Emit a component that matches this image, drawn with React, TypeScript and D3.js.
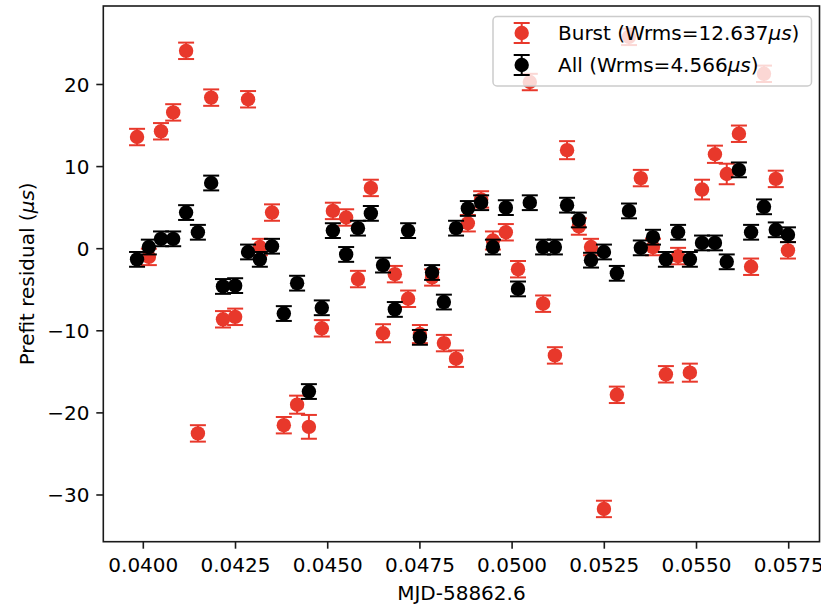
import React from "react";
import * as d3 from "d3";

const mjd = [
  0.03983, 0.04015, 0.04048, 0.04081, 0.04116, 0.04148, 0.04184, 0.04216, 0.04249, 0.04284,
  0.04316, 0.04349, 0.04381, 0.04417, 0.04449, 0.04484, 0.04514, 0.0455, 0.04582, 0.04617,
  0.0465, 0.04682, 0.04718, 0.0475, 0.04783, 0.04815, 0.04848, 0.0488, 0.04916, 0.04948,
  0.04983, 0.05016, 0.05048, 0.05084, 0.05116, 0.05149, 0.05181, 0.05214, 0.05249, 0.05284,
  0.05317, 0.05349, 0.05382, 0.05417, 0.0545, 0.05482, 0.05515, 0.0555, 0.05582, 0.05615,
  0.05648, 0.05683, 0.05715, 0.05748,
];

const burstResidual = [
  13.6, -1.0, 14.3, 16.6, 24.1, -22.5, 18.4, -8.6, -8.3, 18.2,
  0.2, 4.4, -21.5, -19.0, -21.7, -9.7, 4.6, 3.8, -3.7, 7.4,
  -10.3, -3.1, -6.1, -10.4, -3.5, -11.5, -13.4, 3.1, 6.0, 1.0,
  2.0, -2.5, 20.3, -6.7, -13.0, 12.0, 2.7, 0.2, -31.7, -17.8,
  25.8, 8.6, 0.2, -15.3, -0.9, -15.1, 7.2, 11.5, 9.1, 14.0,
  -2.2, 21.3, 8.5, -0.2,
];

const burstError = [
  1.0, 1.0, 1.0, 1.0, 1.0, 1.0, 1.0, 1.0, 1.0, 1.0,
  1.0, 1.0, 1.0, 1.1, 1.45, 1.0, 1.0, 1.0, 1.0, 1.0,
  1.1, 1.0, 1.0, 1.1, 1.0, 1.0, 1.0, 1.0, 1.0, 1.1,
  1.0, 1.0, 1.0, 1.0, 1.0, 1.1, 1.0, 1.0, 1.0, 1.0,
  1.0, 1.0, 1.0, 1.0, 1.0, 1.1, 1.2, 1.05, 1.25, 1.0,
  1.0, 1.0, 1.0, 1.0,
];

const allResidual = [
  -1.3, 0.2, 1.2, 1.2, 4.4, 2.0, 8.0, -4.6, -4.5, -0.4,
  -1.3, 0.3, -7.9, -4.2, -17.4, -7.2, 2.2, -0.7, 2.5, 4.3,
  -2.0, -7.4, 2.2, -10.8, -2.9, -6.5, 2.5, 4.9, 5.6, 0.2,
  5.0, -4.9, 5.6, 0.2, 0.2, 5.3, 3.5, -1.4, -0.4, -3.0,
  4.6, 0.1, 1.4, -1.3, 2.0, -1.3, 0.7, 0.7, -1.6, 9.6,
  2.0, 5.1, 2.3, 1.7,
];

const allError = [
  0.9, 0.9, 0.9, 0.9, 0.9, 0.9, 0.9, 0.9, 0.9, 0.9,
  0.9, 0.9, 0.9, 0.9, 0.9, 0.9, 0.9, 0.9, 0.9, 0.9,
  0.9, 0.9, 0.9, 0.9, 0.9, 0.9, 0.9, 0.9, 0.9, 0.9,
  0.9, 0.9, 0.9, 0.9, 0.9, 0.9, 0.9, 0.9, 0.9, 0.9,
  0.9, 0.9, 0.9, 0.9, 0.9, 0.9, 0.9, 0.9, 0.9, 0.9,
  0.9, 0.9, 0.9, 0.9,
];

const xTicks = [0.04, 0.0425, 0.045, 0.0475, 0.05, 0.0525, 0.055, 0.0575];
const yTicks = [-30, -20, -10, 0, 10, 20];

const seriesNames = ["Burst", "All"];
const seriesWrms = ["12.637", "4.566"];
const xLabel = "MJD-58862.6";

const RED = "#e8382b";
const BLACK = "#000000";
const FONT = "'DejaVu Sans', sans-serif";

export default function App() {
  const W = 821;
  const H = 605;
  const left = 103.3;
  const right = 819.5;
  const top = 6;
  const bottom = 541.7;

  const x = d3.scaleLinear().domain([0.038915, 0.058335]).range([left, right]);
  const y = d3.scaleLinear().domain([-35.69, 29.56]).range([bottom, top]);

  const capHalf = 8;
  const r = 7.2;

  const series = [
    { vals: burstResidual, errs: burstError, color: RED },
    { vals: allResidual, errs: allError, color: BLACK },
  ];

  const fmtX = d3.format(".4f");
  const fmtY = (v: number) => (v < 0 ? "\u2212" + Math.abs(v) : String(v));

  return (
    <svg
      width={W}
      height={H}
      style={{ position: "absolute", left: 0, top: 0, background: "#fff" }}
      fontFamily={FONT}
    >
      <rect x={0} y={0} width={W} height={H} fill="#fff" />
      {series.map((s, si) => (
        <g key={si}>
          {mjd.map((m, i) => {
            const cx = x(m);
            const cy = y(s.vals[i]);
            const y1 = y(s.vals[i] + s.errs[i]);
            const y2 = y(s.vals[i] - s.errs[i]);
            return (
              <g key={i}>
                <line x1={cx} x2={cx} y1={y1} y2={y2} stroke={s.color} strokeWidth={2} />
                <line x1={cx - capHalf} x2={cx + capHalf} y1={y1} y2={y1} stroke={s.color} strokeWidth={2} />
                <line x1={cx - capHalf} x2={cx + capHalf} y1={y2} y2={y2} stroke={s.color} strokeWidth={2} />
                <circle cx={cx} cy={cy} r={r} fill={s.color} />
              </g>
            );
          })}
        </g>
      ))}

      {/* spines */}
      <rect x={left} y={top} width={right - left} height={bottom - top} fill="none" stroke="#1a1a1a" strokeWidth={1.6} />

      {/* x ticks */}
      {xTicks.map((t) => (
        <g key={t}>
          <line x1={x(t)} x2={x(t)} y1={bottom} y2={bottom + 7} stroke="#1a1a1a" strokeWidth={1.6} />
          <text x={x(t)} y={572.3} fontSize={20} textAnchor="middle" fill="#000">
            {fmtX(t)}
          </text>
        </g>
      ))}
      <text x={(left + right) / 2} y={600} fontSize={20} textAnchor="middle" fill="#000">
        {xLabel}
      </text>

      {/* y ticks */}
      {yTicks.map((t) => (
        <g key={t}>
          <line x1={left - 7} x2={left} y1={y(t)} y2={y(t)} stroke="#1a1a1a" strokeWidth={1.6} />
          <text x={89.5} y={y(t) + 7.3} fontSize={20} textAnchor="end" fill="#000">
            {fmtY(t)}
          </text>
        </g>
      ))}
      <text
        transform={`translate(34, ${(top + bottom) / 2}) rotate(-90)`}
        fontSize={20}
        textAnchor="middle"
        fill="#000"
      >
        Prefit residual (<tspan fontStyle="italic">μs</tspan>)
      </text>

      {/* legend */}
      <rect x={493} y={16.5} width={318.5} height={69.5} rx={4} ry={4} fill="#fff" fillOpacity={0.8} stroke="#cccccc" strokeWidth={1.5} />
      {series.map((s, si) => {
        const ly = 33 + si * 32;
        const lx = 521.7;
        return (
          <g key={si}>
            <line x1={lx} x2={lx} y1={ly - 10} y2={ly + 10} stroke={s.color} strokeWidth={2} />
            <line x1={lx - capHalf} x2={lx + capHalf} y1={ly - 10} y2={ly - 10} stroke={s.color} strokeWidth={2} />
            <line x1={lx - capHalf} x2={lx + capHalf} y1={ly + 10} y2={ly + 10} stroke={s.color} strokeWidth={2} />
            <circle cx={lx} cy={ly} r={r} fill={s.color} />
            <text x={558} y={ly + 7.2} fontSize={20} fill="#000">
              {seriesNames[si]} (Wrms={seriesWrms[si]}
              <tspan fontStyle="italic">μs</tspan>)
            </text>
          </g>
        );
      })}
    </svg>
  );
}
